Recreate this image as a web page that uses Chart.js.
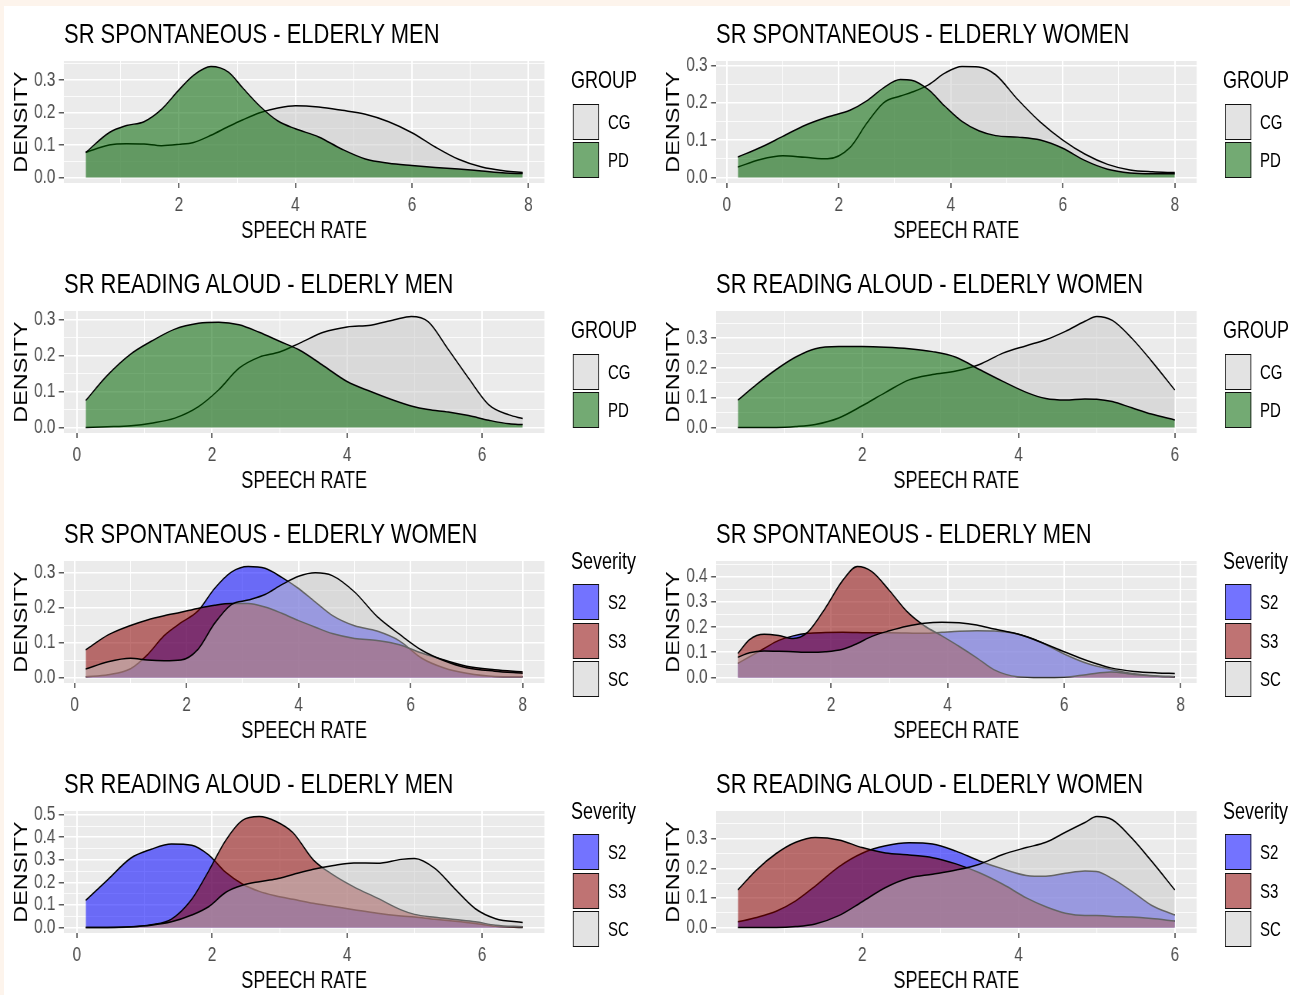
<!DOCTYPE html>
<html>
<head>
<meta charset="utf-8">
<script src="https://cdn.jsdelivr.net/npm/chart.js@4.4.1/dist/chart.umd.min.js"></script>
<style>
  html, body { margin: 0; padding: 0; }
  body { width: 1290px; height: 995px; overflow: hidden; background: #fdf4ec; position: relative;
         font-family: "Liberation Sans", Arial, Helvetica, sans-serif; }
  #paper { position: absolute; left: 4px; top: 6px; right: 0; bottom: 0; background: #fff; }
  #stage { position: absolute; left: 0; top: 0; width: 1676px; height: 995px;
           transform: scaleX(0.77); transform-origin: 0 0; }
  .title { position: absolute; font-size: 28.5px; line-height: 40px; height: 40px; white-space: nowrap; color: #000; }
  .lgTitle { position: absolute; font-size: 23.4px; line-height: 30px; height: 30px; white-space: nowrap; color: #000; }
  .key { position: absolute; box-sizing: border-box; border: 1.5px solid #111; border-left-width: 1.9px; border-right-width: 1.9px; }
  .keyLabel { position: absolute; font-size: 19.5px; line-height: 24px; height: 24px; color: #000; }
  canvas { position: absolute; }
</style>
</head>
<body>
<div id="paper"></div>
<div id="stage"></div>
<script>
// ---- data (speech rate vs density) ----

// SR spontaneous, elderly men (CG / PD)
const spMenX  = [0.4, 0.8, 1.1, 1.4, 1.7, 2.0, 2.25, 2.55, 2.85, 3.1, 3.4, 3.7, 4.0, 4.4, 4.8, 5.2, 5.6, 6.0, 6.4, 6.8, 7.2, 7.6, 7.9];
const spMenCG = [0.077, 0.1, 0.104, 0.103, 0.098, 0.102, 0.108, 0.13, 0.157, 0.178, 0.2, 0.214, 0.221, 0.217, 0.207, 0.195, 0.172, 0.138, 0.094, 0.056, 0.032, 0.02, 0.015];
const spMenPD = [0.077, 0.138, 0.16, 0.172, 0.21, 0.27, 0.315, 0.342, 0.325, 0.275, 0.218, 0.174, 0.15, 0.125, 0.087, 0.057, 0.044, 0.037, 0.031, 0.026, 0.02, 0.014, 0.012];

// SR spontaneous, elderly women (CG / PD)
const spWomenX  = [0.2, 0.6, 1.0, 1.4, 1.8, 2.2, 2.5, 2.8, 3.1, 3.3, 3.6, 3.9, 4.2, 4.5, 4.8, 5.2, 5.6, 6.0, 6.4, 6.8, 7.2, 7.6, 8.0];
const spWomenCG = [0.028, 0.048, 0.058, 0.054, 0.05, 0.08, 0.145, 0.2, 0.218, 0.228, 0.248, 0.28, 0.297, 0.296, 0.275, 0.208, 0.148, 0.1, 0.062, 0.035, 0.02, 0.015, 0.013];
const spWomenPD = [0.055, 0.08, 0.11, 0.14, 0.162, 0.18, 0.205, 0.24, 0.262, 0.26, 0.235, 0.19, 0.15, 0.125, 0.112, 0.108, 0.1, 0.078, 0.045, 0.022, 0.012, 0.01, 0.01];

// SR reading aloud, elderly men (CG / PD)
const raMenX  = [0.13, 0.45, 0.8, 1.1, 1.45, 1.8, 2.1, 2.4, 2.7, 3.0, 3.3, 3.65, 4.0, 4.35, 4.7, 4.95, 5.2, 5.5, 5.8, 6.1, 6.4, 6.6];
const raMenCG = [0.0, 0.002, 0.005, 0.012, 0.026, 0.058, 0.105, 0.165, 0.196, 0.21, 0.235, 0.265, 0.28, 0.285, 0.3, 0.309, 0.295, 0.217, 0.137, 0.063, 0.035, 0.025];
const raMenPD = [0.075, 0.145, 0.205, 0.24, 0.274, 0.29, 0.293, 0.286, 0.265, 0.24, 0.215, 0.172, 0.128, 0.1, 0.075, 0.06, 0.05, 0.043, 0.033, 0.02, 0.01, 0.008];

// SR reading aloud, elderly women (CG / PD)
const raWomenX  = [0.41, 0.65, 0.9, 1.15, 1.4, 1.7, 2.0, 2.3, 2.6, 2.9, 3.2, 3.5, 3.8, 4.1, 4.35, 4.6, 4.85, 5.0, 5.2, 5.45, 5.7, 6.0];
const raWomenCG = [0, 0, 0, 0.003, 0.01, 0.032, 0.073, 0.118, 0.16, 0.178, 0.19, 0.212, 0.25, 0.275, 0.295, 0.323, 0.357, 0.373, 0.36, 0.3, 0.224, 0.126];
const raWomenPD = [0.092, 0.145, 0.195, 0.237, 0.265, 0.272, 0.272, 0.27, 0.265, 0.255, 0.236, 0.195, 0.155, 0.118, 0.097, 0.092, 0.096, 0.095, 0.087, 0.066, 0.045, 0.025];

// severity: SR spontaneous, elderly women (S2 / S3 / SC)
const sevSpWomenX  = [0.2, 0.6, 1.0, 1.3, 1.6, 1.9, 2.2, 2.5, 2.8, 3.1, 3.4, 3.7, 4.0, 4.3, 4.6, 5.0, 5.4, 5.8, 6.2, 6.6, 7.0, 7.5, 8.0];
const sevSpWomenS2 = [0.002, 0.008, 0.025, 0.065, 0.12, 0.157, 0.19, 0.255, 0.302, 0.318, 0.313, 0.287, 0.255, 0.216, 0.178, 0.148, 0.133, 0.105, 0.055, 0.027, 0.012, 0.003, 0.002];
const sevSpWomenS3 = [0.079, 0.122, 0.149, 0.165, 0.177, 0.187, 0.198, 0.207, 0.212, 0.212, 0.202, 0.184, 0.163, 0.144, 0.126, 0.112, 0.106, 0.094, 0.07, 0.05, 0.032, 0.022, 0.016];
const sevSpWomenSC = [0.024, 0.045, 0.055, 0.05, 0.048, 0.05, 0.08, 0.155, 0.209, 0.222, 0.238, 0.266, 0.29, 0.3, 0.292, 0.245, 0.175, 0.124, 0.078, 0.048, 0.028, 0.018, 0.012];

// severity: SR spontaneous, elderly men
const sevSpMenX  = [0.4, 0.6, 0.85, 1.1, 1.35, 1.6, 1.9, 2.2, 2.45, 2.7, 3.0, 3.3, 3.6, 3.9, 4.2, 4.5, 4.8, 5.2, 5.6, 6.0, 6.4, 6.8, 7.2, 7.6, 7.9];
const sevSpMenS2 = [0.056, 0.082, 0.115, 0.147, 0.165, 0.175, 0.178, 0.179, 0.178, 0.177, 0.177, 0.176, 0.175, 0.179, 0.183, 0.185, 0.184, 0.172, 0.14, 0.093, 0.055, 0.032, 0.015, 0.006, 0.003];
const sevSpMenS3 = [0.095, 0.15, 0.171, 0.166, 0.155, 0.18, 0.275, 0.385, 0.44, 0.42, 0.345, 0.262, 0.205, 0.165, 0.123, 0.078, 0.03, 0.003, 0.0, 0.001, 0.012, 0.022, 0.012, 0.005, 0.003];
const sevSpMenSC = [0.08, 0.098, 0.105, 0.104, 0.102, 0.1, 0.102, 0.112, 0.135, 0.163, 0.185, 0.203, 0.215, 0.219, 0.217, 0.208, 0.192, 0.172, 0.14, 0.102, 0.066, 0.038, 0.024, 0.018, 0.016];

// severity: SR reading aloud, elderly men
const sevRaMenX  = [0.13, 0.45, 0.8, 1.1, 1.4, 1.7, 1.95, 2.2, 2.45, 2.7, 2.95, 3.2, 3.5, 3.8, 4.1, 4.45, 4.8, 5.0, 5.3, 5.6, 5.9, 6.2, 6.6];
const sevRaMenS2 = [0.12, 0.21, 0.308, 0.347, 0.37, 0.365, 0.322, 0.245, 0.193, 0.16, 0.14, 0.125, 0.107, 0.093, 0.079, 0.063, 0.051, 0.046, 0.036, 0.028, 0.018, 0.005, 0.0];
const sevRaMenS3 = [0, 0, 0.002, 0.012, 0.037, 0.125, 0.25, 0.385, 0.475, 0.492, 0.47, 0.42, 0.3, 0.232, 0.18, 0.13, 0.078, 0.058, 0.045, 0.035, 0.025, 0.01, 0.003];
const sevRaMenSC = [0, 0, 0.003, 0.01, 0.025, 0.055, 0.092, 0.155, 0.187, 0.203, 0.215, 0.235, 0.258, 0.275, 0.286, 0.285, 0.302, 0.306, 0.262, 0.17, 0.083, 0.039, 0.022];

// severity: SR reading aloud, elderly women
const sevRaWomenX  = [0.41, 0.65, 0.9, 1.15, 1.4, 1.7, 2.0, 2.3, 2.6, 2.9, 3.2, 3.5, 3.8, 4.1, 4.35, 4.6, 4.85, 5.0, 5.2, 5.45, 5.7, 6.0];
const sevRaWomenS2 = [0.019, 0.034, 0.055, 0.09, 0.14, 0.205, 0.251, 0.276, 0.286, 0.282, 0.258, 0.225, 0.198, 0.176, 0.173, 0.183, 0.191, 0.189, 0.165, 0.122, 0.075, 0.042];
const sevRaWomenS3 = [0.127, 0.195, 0.25, 0.288, 0.304, 0.296, 0.27, 0.252, 0.245, 0.236, 0.215, 0.185, 0.146, 0.1, 0.07, 0.048, 0.04, 0.04, 0.037, 0.035, 0.03, 0.022];
const sevRaWomenSC = [0, 0, 0, 0.003, 0.012, 0.04, 0.087, 0.135, 0.167, 0.18, 0.194, 0.214, 0.247, 0.27, 0.288, 0.322, 0.355, 0.375, 0.364, 0.302, 0.225, 0.127];

// ---- layout / styling ----
const SX = 0.77; // horizontal squeeze of the whole figure
const FONT = '"Liberation Sans", Arial, Helvetica, sans-serif';
Chart.defaults.font.family = FONT;

const FILLS = {
  CG: 'rgba(200,200,200,0.5)', SC: 'rgba(200,200,200,0.5)',
  PD: 'rgba(0,100,0,0.55)',
  S2: 'rgba(0,0,255,0.55)', S3: 'rgba(139,0,0,0.55)'
};

const panels = [
  { col: 0, row: 0, title: 'SR SPONTANEOUS - ELDERLY MEN', legend: 'GROUP', x: spMenX, series: [['CG', spMenCG], ['PD', spMenPD]] },
  { col: 1, row: 0, title: 'SR SPONTANEOUS - ELDERLY WOMEN', legend: 'GROUP', x: spWomenX, series: [['CG', spWomenCG], ['PD', spWomenPD]] },
  { col: 0, row: 1, title: 'SR READING ALOUD - ELDERLY MEN', legend: 'GROUP', x: raMenX, series: [['CG', raMenCG], ['PD', raMenPD]] },
  { col: 1, row: 1, title: 'SR READING ALOUD - ELDERLY WOMEN', legend: 'GROUP', x: raWomenX, series: [['CG', raWomenCG], ['PD', raWomenPD]] },
  { col: 0, row: 2, title: 'SR SPONTANEOUS - ELDERLY WOMEN', legend: 'Severity', x: sevSpWomenX, series: [['S2', sevSpWomenS2], ['S3', sevSpWomenS3], ['SC', sevSpWomenSC]] },
  { col: 1, row: 2, title: 'SR SPONTANEOUS - ELDERLY MEN', legend: 'Severity', x: sevSpMenX, series: [['S2', sevSpMenS2], ['S3', sevSpMenS3], ['SC', sevSpMenSC]] },
  { col: 0, row: 3, title: 'SR READING ALOUD - ELDERLY MEN', legend: 'Severity', x: sevRaMenX, series: [['S2', sevRaMenS2], ['S3', sevRaMenS3], ['SC', sevRaMenSC]] },
  { col: 1, row: 3, title: 'SR READING ALOUD - ELDERLY WOMEN', legend: 'Severity', x: sevRaWomenX, series: [['S2', sevRaWomenS2], ['S3', sevRaWomenS3], ['SC', sevRaWomenSC]] }
];

const stage = document.getElementById('stage');
const lx = v => (v / SX) + 'px';

function addDiv(cls, text, x, y) {
  const d = document.createElement('div');
  d.className = cls;
  d.textContent = text;
  d.style.left = lx(x);
  d.style.top = y + 'px';
  stage.appendChild(d);
  return d;
}

function stepTicks(min, max, step) {
  const out = [];
  for (let k = Math.ceil(min / step - 1e-9); k * step <= max + 1e-9; k++) {
    out.push(Math.round(k * step * 1000) / 1000);
  }
  return out;
}
const isMajor = (v, step) => Math.abs(v / step - Math.round(v / step)) < 1e-6;

const panelBg = {
  id: 'panelBg',
  beforeDraw(chart) {
    const { ctx, chartArea: a } = chart;
    ctx.save();
    ctx.fillStyle = '#ebebeb';
    ctx.fillRect(a.left, a.top, a.right - a.left, a.bottom - a.top);
    ctx.restore();
  }
};

panels.forEach(p => {
  const canvasLeft = [4, 656][p.col];
  const plotTop = 61 + 250 * p.row;

  // title
  addDiv('title', p.title, [64, 716][p.col], 33 + 250 * p.row - 20);

  // legend
  const n = p.series.length;
  const blockTop = plotTop + 63 - (36 + n * 38.5) / 2;
  addDiv('lgTitle', p.legend, [571, 1223][p.col], blockTop + 12.5 - 15);
  p.series.forEach(([name], i) => {
    const boxTop = blockTop + 36 + i * 38.5;
    const k = addDiv('key', '', [573, 1225][p.col], boxTop);
    k.style.width = lx(26);
    k.style.height = '36px';
    k.style.background = FILLS[name];
    addDiv('keyLabel', name, [608, 1260][p.col], boxTop + 18 - 12);
  });

  // axis ranges: 5% expansion like ggplot
  const xMinD = p.x[0], xMaxD = p.x[p.x.length - 1];
  const xr = xMaxD - xMinD;
  const xMin = xMinD - 0.05 * xr, xMax = xMaxD + 0.05 * xr;
  const yPeak = Math.max(...p.series.map(s => Math.max(...s[1])));
  const yMin = -0.05 * yPeak, yMax = 1.05 * yPeak;
  const xTicks = stepTicks(xMin, xMax, 1);
  const yTicks = stepTicks(yMin, yMax, 0.05);

  const cv = document.createElement('canvas');
  cv.width = Math.round(544 / SX);
  cv.height = 206;
  cv.style.left = lx(canvasLeft);
  cv.style.top = (plotTop - 20) + 'px';
  stage.appendChild(cv);

  const datasets = p.series.map(([name, ys], i) => ({
    label: name,
    data: p.x.map((x, j) => ({ x: x, y: ys[j] })),
    fill: 'origin',
    backgroundColor: FILLS[name],
    borderColor: '#000',
    borderWidth: 1.5,
    pointRadius: 0,
    cubicInterpolationMode: 'monotone',
    order: n - 1 - i
  }));

  new Chart(cv, {
    type: 'line',
    data: { datasets },
    plugins: [panelBg],
    options: {
      responsive: false,
      animation: false,
      devicePixelRatio: 1,
      layout: { padding: { top: 20, left: 0, right: 3 / SX, bottom: 0 } },
      plugins: { legend: { display: false }, tooltip: { enabled: false } },
      scales: {
        x: {
          type: 'linear', min: xMin, max: xMax,
          afterBuildTicks: axis => { axis.ticks = xTicks.map(v => ({ value: v })); },
          afterFit: scale => { scale.height = 64; },
          border: { display: false },
          grid: {
            color: '#ffffff',
            lineWidth: c => isMajor(c.tick.value, 2) ? 2.0 : 1.0,
            tickColor: c => isMajor(c.tick.value, 2) ? '#333333' : 'rgba(0,0,0,0)',
            tickWidth: 1.4,
            tickLength: 5
          },
          ticks: {
            autoSkip: false, maxRotation: 0, padding: 5.5, color: '#4d4d4d',
            font: { size: 20 },
            callback: v => isMajor(v, 2) ? String(Math.round(v)) : ''
          },
          title: { display: true, text: 'SPEECH RATE', color: '#000', font: { size: 23.4 }, padding: { top: 0, bottom: 1 } }
        },
        y: {
          type: 'linear', min: yMin, max: yMax,
          afterBuildTicks: axis => { axis.ticks = yTicks.map(v => ({ value: v })); },
          afterFit: scale => { scale.width = 60 / SX; },
          border: { display: false },
          grid: {
            color: '#ffffff',
            lineWidth: c => isMajor(c.tick.value, 0.1) ? 1.6 : 0.8,
            tickColor: c => isMajor(c.tick.value, 0.1) ? '#333333' : 'rgba(0,0,0,0)',
            tickWidth: 1.2,
            tickLength: 5 / SX
          },
          ticks: {
            autoSkip: false, padding: 4.5, color: '#4d4d4d',
            font: { size: 20 },
            callback: v => isMajor(v, 0.1) ? v.toFixed(1) : ''
          },
          title: { display: true, text: 'DENSITY', color: '#000', font: { size: 23.4 }, padding: { top: 9.3, bottom: 0 } }
        }
      }
    }
  });
});
</script>
</body>
</html>
